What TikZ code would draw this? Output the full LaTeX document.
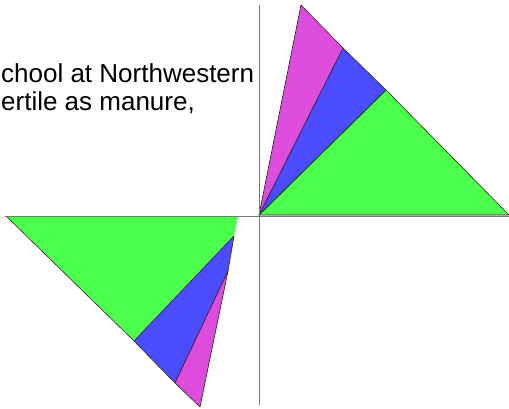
\documentclass[tikz,border=0pt]{standalone}
\usepackage{fontspec}
\setmainfont{Liberation Sans}
\usepackage{xcolor}
\definecolor{wedgegreen}{RGB}{76,255,76}
\definecolor{wedgeblue}{RGB}{76,76,255}
\definecolor{wedgepink}{RGB}{221,76,221}
\definecolor{axisgrey}{RGB}{120,120,120}

\begin{document}
\begin{tikzpicture}[x=1pt, y=-1pt,
    axisline/.style={draw=axisgrey, line width=1pt},
    wedge/.style={draw=black!85, line width=0.6pt, line join=round},
    caption/.style={font=\fontsize{26}{28}\selectfont, anchor=base west, inner sep=0pt}
]
    \useasboundingbox (0,0) rectangle (509,408);

    % text, cut at the left edge
    \begin{scope}
        \clip (0,0) rectangle (509,408);
        \node[caption] (line1) at (1,82) {chool at Northwestern};
        \node[caption] (line2) at (1,110) {ertile as manure,};
    \end{scope}

    % upper right fan
    \coordinate (o) at (259,215);
    \coordinate (u1) at (301,5);
    \coordinate (u2) at (343,48);
    \coordinate (u3) at (386,90);
    \coordinate (u4) at (509,215);
    \fill[wedge, fill=wedgegreen] (o) -- (u3) -- (u4) -- cycle;
    \fill[wedge, fill=wedgeblue] (o) -- (u2) -- (u3) -- cycle;
    \fill[wedge, fill=wedgepink] (o) -- (u1) -- (u2) -- cycle;

    % lower left fan
    \coordinate (a) at (6,216);
    \coordinate (b) at (238,216);
    \coordinate (c) at (200,407);
    \coordinate (p1) at (234,236);
    \coordinate (p2) at (228,271);
    \coordinate (q1) at (134,341);
    \coordinate (q2) at (175,383);
    \fill[fill=wedgegreen] (a) -- (b) -- (p1) -- (q1) -- cycle;
    \draw[wedge] (a) -- (q1);
    \fill[wedge, fill=wedgeblue] (q1) -- (p1) -- (p2) -- (q2) -- cycle;
    \fill[wedge, fill=wedgepink] (q2) -- (p2) -- (c) -- cycle;

    % axes
    \draw[axisline] (5,216) -- (509,216);
    \draw[axisline] (259,5) -- (259,405);
\end{tikzpicture}
\end{document}
